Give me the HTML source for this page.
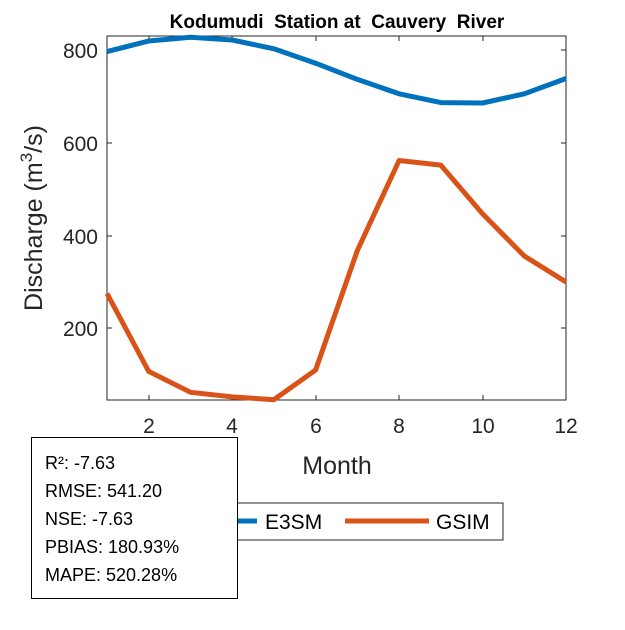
<!DOCTYPE html><html><head><style>body{margin:0;background:#fff}</style></head><body>
<svg width="625" height="625" xmlns="http://www.w3.org/2000/svg" font-family="Liberation Sans, sans-serif">
<rect width="625" height="625" fill="#fff"/>
<rect x="107" y="36" width="459" height="364" fill="#fff" stroke="#262626" stroke-width="1"/>
<g stroke="#262626" stroke-width="1">
<line x1="149" y1="400" x2="149" y2="395"/><line x1="232" y1="400" x2="232" y2="395"/><line x1="316" y1="400" x2="316" y2="395"/><line x1="399" y1="400" x2="399" y2="395"/><line x1="483" y1="400" x2="483" y2="395"/>
<line x1="149" y1="36" x2="149" y2="41"/><line x1="232" y1="36" x2="232" y2="41"/><line x1="316" y1="36" x2="316" y2="41"/><line x1="399" y1="36" x2="399" y2="41"/><line x1="483" y1="36" x2="483" y2="41"/>
<line x1="107" y1="50" x2="112" y2="50"/><line x1="107" y1="143" x2="112" y2="143"/><line x1="107" y1="236" x2="112" y2="236"/><line x1="107" y1="328" x2="112" y2="328"/>
<line x1="566" y1="50" x2="561" y2="50"/><line x1="566" y1="143" x2="561" y2="143"/><line x1="566" y1="236" x2="561" y2="236"/><line x1="566" y1="328" x2="561" y2="328"/>
</g>
<g font-size="21" fill="#262626" text-anchor="end">
<text x="98" y="58">800</text><text x="98" y="151">600</text><text x="98" y="244">400</text><text x="98" y="336">200</text>
</g>
<g font-size="21" fill="#262626" text-anchor="middle">
<text x="149" y="433">2</text><text x="232" y="433">4</text><text x="316" y="433">6</text><text x="399" y="433">8</text><text x="483" y="433">10</text><text x="566" y="433">12</text>
<text x="337" y="474" font-size="25">Month</text>
</g>
<text transform="translate(42,218) rotate(-90)" font-size="25" fill="#262626" text-anchor="middle">Discharge (m<tspan font-size="17" dy="-10">3</tspan><tspan dy="10">/s)</tspan></text>
<text x="337" y="28" font-size="19" font-weight="bold" text-anchor="middle" fill="#000" xml:space="preserve">Kodumudi  Station at  Cauvery  River</text>
<polyline fill="none" stroke="#0072BD" stroke-width="5" stroke-linejoin="round" points="107,51.6 148.7,41 190.5,37.2 232.2,40 273.9,48.8 315.6,63.2 357.4,79.4 399.1,93.8 440.8,102.6 482.5,103 524.3,93.8 566,78.5"/>
<polyline fill="none" stroke="#D95319" stroke-width="5" stroke-linejoin="round" points="107,293.5 148.7,371.4 190.5,392.3 232.2,396.9 273.9,399.7 315.6,370 357.4,250.4 399.1,160.5 440.8,165.1 482.5,213.8 524.3,256 566,282"/>
<rect x="150" y="503" width="353" height="37" fill="#fff" stroke="#262626" stroke-width="1"/>
<line x1="175" y1="521" x2="257" y2="521" stroke="#0072BD" stroke-width="5"/>
<text x="265" y="529" font-size="21" fill="#000">E3SM</text>
<line x1="345" y1="521" x2="429" y2="521" stroke="#D95319" stroke-width="5"/>
<text x="436" y="529" font-size="21" fill="#000">GSIM</text>
<rect x="31.5" y="437.5" width="206" height="161" fill="#fff" stroke="#000" stroke-width="1"/>
<g font-size="18" fill="#000">
<text x="45" y="469">R²: -7.63</text><text x="45" y="497">RMSE: 541.20</text><text x="45" y="525">NSE: -7.63</text><text x="45" y="553">PBIAS: 180.93%</text><text x="45" y="581">MAPE: 520.28%</text>
</g>
</svg></body></html>
